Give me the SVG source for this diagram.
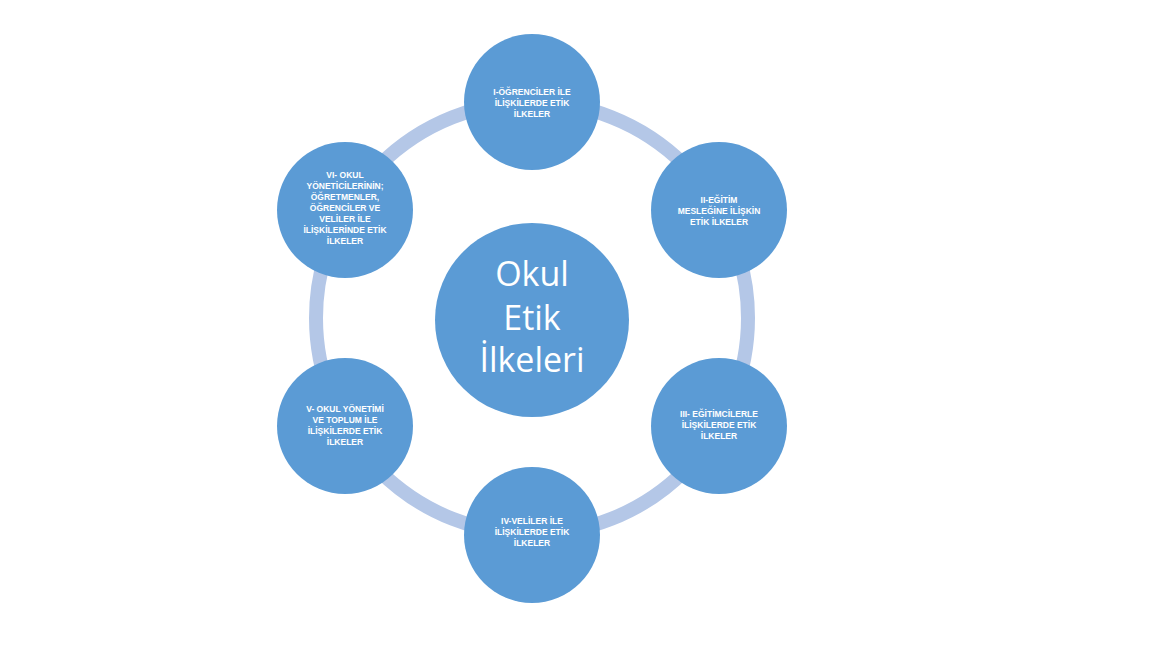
<svg xmlns="http://www.w3.org/2000/svg" width="1150" height="646" viewBox="0 0 1150 646">
<style>
.n{fill:#5b9bd5}
.t{fill:#fff;font-family:"Liberation Sans",Arial,sans-serif;font-size:8.5px;font-weight:bold;text-anchor:middle}
.c{fill:#fff;font-family:"Open Sans","Liberation Sans",sans-serif;font-size:34px;text-anchor:middle}
</style>
<rect width="1150" height="646" fill="#fff"/>
<g id="connectors"><circle cx="532" cy="318" r="216" fill="none" stroke="#b4c7e7" stroke-width="14"/></g>
<g id="center"><circle class="n" cx="532" cy="320" r="97"/>
<text class="c" x="532" y="286">Okul</text><text class="c" x="532" y="330">Etik</text><text class="c" x="532" y="372">İlkeleri</text></g>
<g id="n1"><circle class="n" cx="532" cy="102" r="68"/>
<text class="t" x="532" y="95">I-ÖĞRENCİLER İLE</text><text class="t" x="532" y="106">İLİŞKİLERDE ETİK</text><text class="t" x="532" y="117">İLKELER</text></g>
<g id="n2"><circle class="n" cx="719" cy="210" r="68"/>
<text class="t" x="719" y="203">II-EĞİTİM</text><text class="t" x="719" y="214">MESLEĞİNE İLİŞKİN</text><text class="t" x="719" y="225">ETİK İLKELER</text></g>
<g id="n3"><circle class="n" cx="719" cy="426" r="68"/>
<text class="t" x="719" y="417">III- EĞİTİMCİLERLE</text><text class="t" x="719" y="428">İLİŞKİLERDE ETİK</text><text class="t" x="719" y="439">İLKELER</text></g>
<g id="n4"><circle class="n" cx="532" cy="535" r="68"/>
<text class="t" x="532" y="524">IV-VELİLER İLE</text><text class="t" x="532" y="535">İLİŞKİLERDE ETİK</text><text class="t" x="532" y="546">İLKELER</text></g>
<g id="n5"><circle class="n" cx="345" cy="426" r="68"/>
<text class="t" x="345" y="412">V- OKUL YÖNETİMİ</text><text class="t" x="345" y="423">VE TOPLUM İLE</text><text class="t" x="345" y="434">İLİŞKİLERDE ETİK</text><text class="t" x="345" y="445">İLKELER</text></g>
<g id="n6"><circle class="n" cx="345" cy="210" r="68"/>
<text class="t" x="345" y="178">VI- OKUL</text><text class="t" x="345" y="189">YÖNETİCİLERİNİN;</text><text class="t" x="345" y="200">ÖĞRETMENLER,</text><text class="t" x="345" y="211">ÖĞRENCİLER VE</text><text class="t" x="345" y="222">VELİLER İLE</text><text class="t" x="345" y="233">İLİŞKİLERİNDE ETİK</text><text class="t" x="345" y="244">İLKELER</text></g>
</svg>
